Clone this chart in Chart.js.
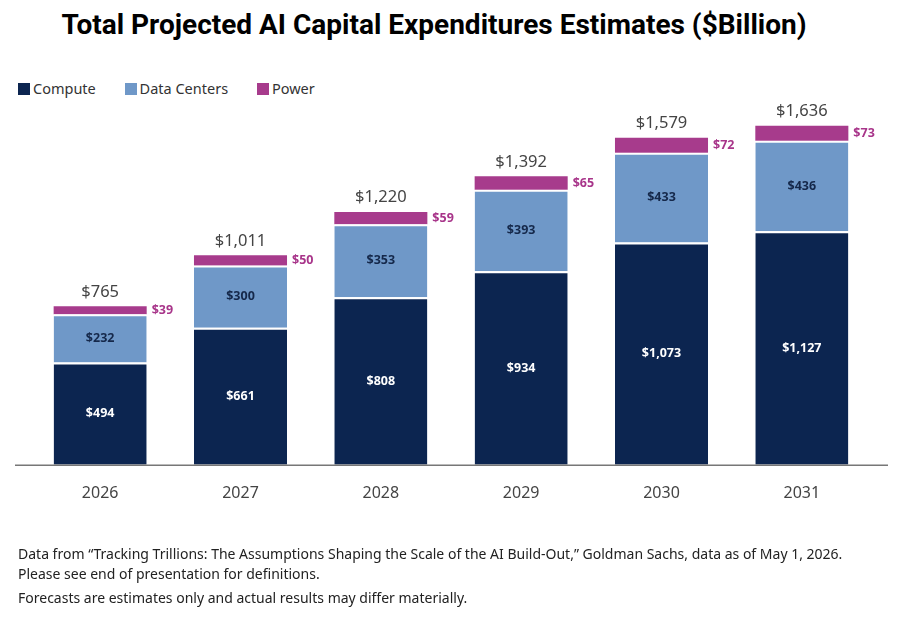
<!DOCTYPE html>
<html>
<head>
<meta charset="utf-8">
<script src="https://cdn.jsdelivr.net/npm/chart.js@4"></script>
<style>
  html, body { margin: 0; padding: 0; background: #fff; }
  body { width: 900px; height: 617px; position: relative; overflow: hidden; font-family: 'Noto Sans', sans-serif; }
  #title { position: absolute; left: 0; width: 868px; top: 8px; text-align: center; font-family: Roboto, sans-serif; font-weight: 700; font-size: 28px; color: #000; }
  #legend { position: absolute; left: 18px; top: 78px; font-size: 14.5px; color: #333; }
  #legend span.item { display: inline-block; margin-right: 25px; }
  #legend i { display: inline-block; width: 12px; height: 12px; margin-right: 3px; vertical-align: -1px; }
  #foot { position: absolute; left: 18px; top: 544px; font-size: 14px; color: #222; line-height: 20px; }
  #foot p { margin: 0; }
  #wrap { position: absolute; left: 0; top: 0; width: 900px; height: 617px; }
</style>
</head>
<body>
<div id="title">Total Projected AI Capital Expenditures Estimates ($Billion)</div>
<div id="legend">
  <span class="item"><i style="background:#0c2550"></i>Compute</span>
  <span class="item"><i style="background:#6f98c8"></i>Data Centers</span>
  <span class="item"><i style="background:#a73b8c"></i>Power</span>
</div>
<div id="wrap"><canvas id="chart"></canvas></div>
<div id="foot">
  <p>Data from “Tracking Trillions: The Assumptions Shaping the Scale of the AI Build-Out,” Goldman Sachs, data as of May 1, 2026.</p>
  <p>Please see end of presentation for definitions.</p>
  <p style="margin-top:4px">Forecasts are estimates only and actual results may differ materially.</p>
</div>
<script>
// Chart data
const years = ['2026', '2027', '2028', '2029', '2030', '2031'];
const compute = [494, 661, 808, 934, 1073, 1127];
const dataCenters = [232, 300, 353, 393, 433, 436];
const power = [39, 50, 59, 65, 72, 73];
const totals = [765, 1011, 1220, 1392, 1579, 1636];

const fmt = v => '$' + v.toLocaleString('en-US');

// Draws the value labels on / beside / above the bars
const valueLabels = {
    id: 'valueLabels',
    afterDatasetsDraw(chart) {
        const ctx = chart.ctx;
        const cMeta = chart.getDatasetMeta(0);
        const dMeta = chart.getDatasetMeta(1);
        const pMeta = chart.getDatasetMeta(2);
        ctx.save();
        ctx.textAlign = 'center';
        ctx.textBaseline = 'middle';
        ctx.font = "bold 12.5px 'Noto Sans', sans-serif";
        cMeta.data.forEach((bar, i) => {
            ctx.fillStyle = '#ffffff';
            ctx.fillText(fmt(compute[i]), bar.x, (bar.y + bar.base) / 2);
        });
        dMeta.data.forEach((bar, i) => {
            ctx.fillStyle = '#15284a';
            ctx.fillText(fmt(dataCenters[i]), bar.x, (bar.y + bar.base) / 2);
        });
        pMeta.data.forEach((bar, i) => {
            ctx.fillStyle = '#a8358a';
            ctx.textAlign = 'left';
            ctx.fillText(fmt(power[i]), bar.x + bar.width / 2 + 5, (bar.y + bar.base) / 2);
            ctx.fillStyle = '#444';
            ctx.textAlign = 'center';
            ctx.textBaseline = 'bottom';
            ctx.font = "16.5px 'Noto Sans', sans-serif";
            ctx.fillText(fmt(totals[i]), bar.x, bar.y - 6);
            ctx.font = "bold 12.5px 'Noto Sans', sans-serif";
            ctx.textBaseline = 'middle';
        });
        // baseline axis, a bit wider than the plot area
        const yb = chart.scales.y.getPixelForValue(0);
        ctx.strokeStyle = '#777';
        ctx.lineWidth = 1.5;
        ctx.beginPath();
        ctx.moveTo(15, yb + 0.5);
        ctx.lineTo(888, yb + 0.5);
        ctx.stroke();
        ctx.restore();
    }
};

new Chart(document.getElementById('chart'), {
    type: 'bar',
    data: {
        labels: years,
        datasets: [
            {
                label: 'Compute',
                data: compute,
                backgroundColor: '#0c2550',
                borderColor: '#ffffff',
                borderWidth: { top: 2 },
                borderSkipped: 'start'
            },
            {
                label: 'Data Centers',
                data: dataCenters,
                backgroundColor: '#6f98c8',
                borderColor: '#ffffff',
                borderWidth: { top: 2 },
                borderSkipped: 'start'
            },
            {
                label: 'Power',
                data: power,
                backgroundColor: '#a73b8c',
                borderWidth: 0
            }
        ]
    },
    options: {
        responsive: true,
        maintainAspectRatio: false,
        animation: false,
        barPercentage: 0.663,
        categoryPercentage: 1,
        layout: {
            padding: { left: 30, right: 28, top: 100, bottom: 95 }
        },
        plugins: {
            legend: { display: false },
            tooltip: { enabled: false }
        },
        scales: {
            x: {
                stacked: true,
                grid: { display: false, drawTicks: false },
                border: { display: false },
                ticks: {
                    color: '#444',
                    padding: 19,
                    font: { family: "'Noto Sans', sans-serif", size: 16 }
                }
            },
            y: {
                stacked: true,
                display: false,
                min: 0,
                max: 1760
            }
        }
    },
    plugins: [valueLabels]
});
</script>
</body>
</html>
